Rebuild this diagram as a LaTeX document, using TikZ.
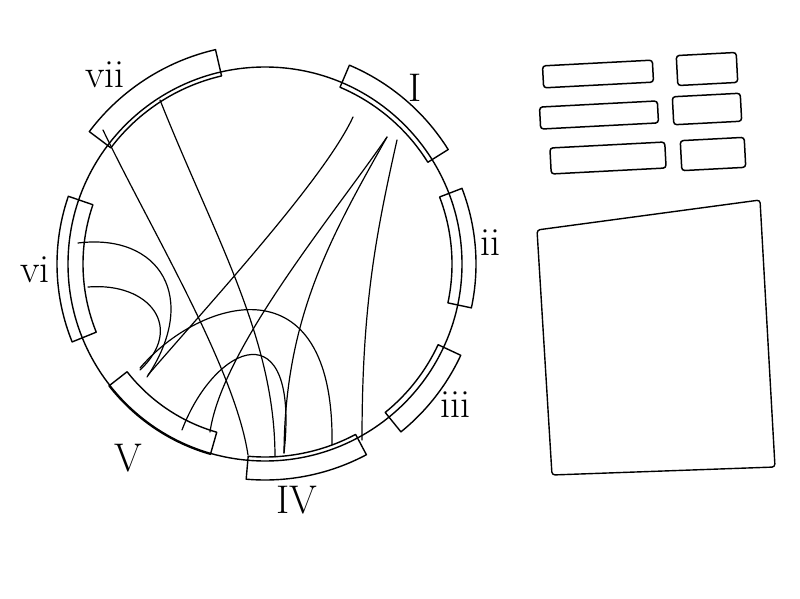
\documentclass[tikz,border=0pt]{standalone}
\usepackage{tikz}
\usetikzlibrary{positioning}

\tikzset{
  sketch/.style={line width=1.4pt, line join=round, line cap=round},
  chord/.style={line width=1.2pt, line cap=round},
  segtext/.style={font=\fontsize{40}{40}\selectfont, inner sep=0pt},
  keybox/.style={draw, line width=1.5pt, rounded corners=3pt, rotate=3, inner sep=0pt},
}

\begin{document}
\begin{tikzpicture}[x=1pt, y=1pt]
    \useasboundingbox (0,0) rectangle (800,598);

    % ring
    \coordinate (ctr) at (265,334);
    \draw[sketch] (ctr) circle[radius=197];

    % segments around the ring
    \begin{scope}[shift={(ctr)}]
      \draw[sketch] (32:192) arc[start angle=32, end angle=67, radius=192]
        -- (67:216) arc[start angle=67, end angle=32, radius=216] -- cycle;
      \draw[sketch] (-12:187) arc[start angle=-12, end angle=21, radius=187]
        -- (21:211) arc[start angle=21, end angle=-12, radius=211] -- cycle;
      \draw[sketch] (-51:191) arc[start angle=-51, end angle=-25, radius=191]
        -- (-25:216) arc[start angle=-25, end angle=-51, radius=216] -- cycle;
      \draw[sketch] (-95:193) arc[start angle=-95, end angle=-62, radius=193]
        -- (-62:216) arc[start angle=-62, end angle=-95, radius=216] -- cycle;
      \draw[sketch] (-142:175) arc[start angle=-142, end angle=-106, radius=175]
        -- (-106:198) arc[start angle=-106, end angle=-142, radius=198] -- cycle;
      \draw[sketch] (161:182) arc[start angle=161, end angle=202, radius=182]
        -- (202:208) arc[start angle=202, end angle=161, radius=208] -- cycle;
      \draw[sketch] (103:193) arc[start angle=103, end angle=143, radius=193]
        -- (143:220) arc[start angle=143, end angle=103, radius=220] -- cycle;
    \end{scope}

    % segment labels
    \node[segtext] (lab-I) at (415,510) {I};
    \node[segtext] (lab-ii) at (490,355) {ii};
    \node[segtext] (lab-iii) at (455,193) {iii};
    \node[segtext] (lab-IV) at (297,98) {IV};
    \node[segtext] (lab-V) at (128,140) {V};
    \node[segtext] (lab-vi) at (35,328) {vi};
    \node[segtext] (lab-vii) at (105,523) {vii};

    % chord ends
    \coordinate (vii-a) at (103,468);
    \coordinate (vii-b) at (160,498);
    \coordinate (vi-a) at (78,355);
    \coordinate (vi-b) at (88,311);
    \coordinate (I-a) at (353,481);
    \coordinate (I-b) at (387,461);
    \coordinate (I-c) at (397,458);
    \coordinate (V-a) at (147,221);
    \coordinate (V-b) at (140,228);
    \coordinate (V-c) at (148,223);
    \coordinate (V-d) at (140,230);
    \coordinate (V-e) at (182,168);
    \coordinate (V-f) at (210,166);
    \coordinate (IV-a) at (248,143);
    \coordinate (IV-b) at (275,141);
    \coordinate (IV-c) at (284,145);
    \coordinate (IV-d) at (332,153);
    \coordinate (IV-e) at (362,158);

    % chords
    \draw[chord] (vii-a) .. controls (150,370) and (235,230) .. (IV-a);
    \draw[chord] (vii-b) .. controls (215,360) and (275,260) .. (IV-b);
    \draw[chord] (vi-a) .. controls (160,365) and (200,300) .. (V-a);
    \draw[chord] (vi-b) .. controls (150,316) and (185,270) .. (V-b);
    \draw[chord] (I-a) .. controls (325,420) and (210,295) .. (V-c);
    \draw[chord] (I-b) .. controls (335,385) and (222,250) .. (V-f);
    \draw[chord] (I-b) .. controls (330,360) and (285,280) .. (IV-c);
    \draw[chord] (I-c) .. controls (375,360) and (362,290) .. (IV-e);
    \draw[chord] (V-d) .. controls (200,300) and (335,340) .. (IV-d);
    \draw[chord] (V-e) .. controls (215,255) and (300,290) .. (IV-c);

    % legend
    \node[keybox, minimum width=110pt, minimum height=22pt] (key-1) at (598,524) {};
    \node[keybox, minimum width=60pt, minimum height=30pt] (swatch-1) at (707,529) {};
    \node[keybox, minimum width=118pt, minimum height=22pt] (key-2) at (599,483) {};
    \node[keybox, minimum width=68pt, minimum height=28pt] (swatch-2) at (707,489) {};
    \node[keybox, minimum width=115pt, minimum height=26pt] (key-3) at (608,440) {};
    \node[keybox, minimum width=64pt, minimum height=30pt] (swatch-3) at (713,444) {};

    % panel
    \draw[sketch, rounded corners=3pt] (537,368) -- (760,398) -- (775,131) -- (552,123) -- cycle;
\end{tikzpicture}
\end{document}
